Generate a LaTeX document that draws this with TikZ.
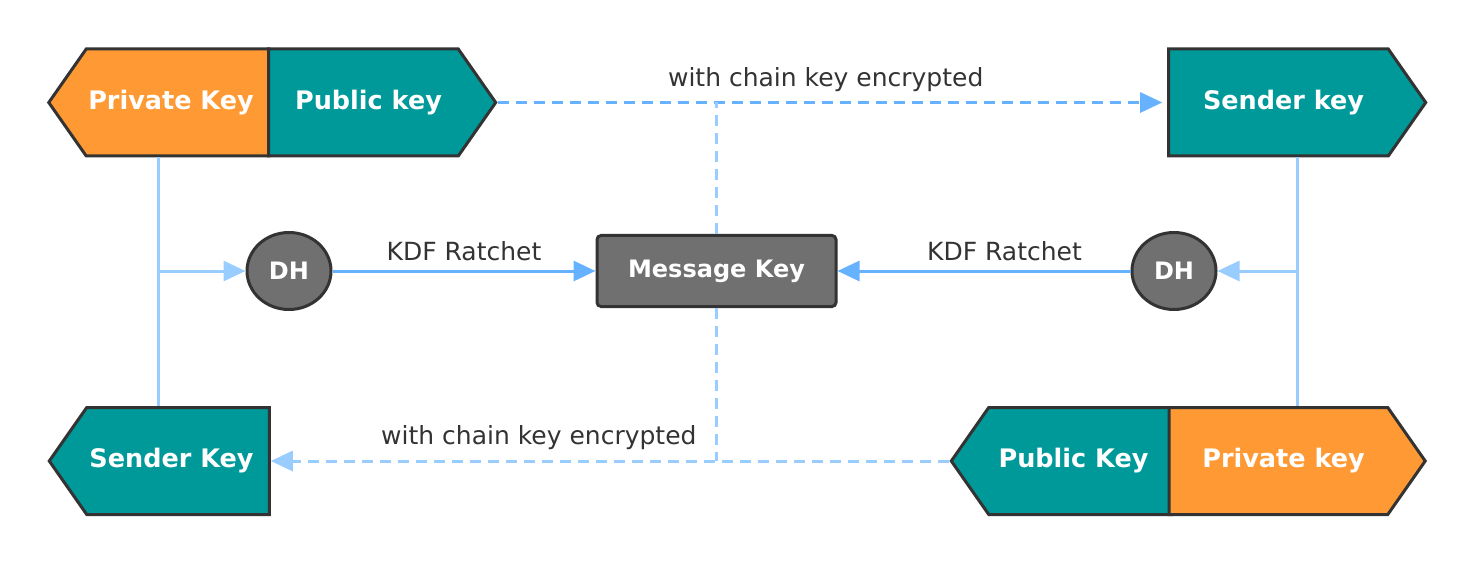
\documentclass[tikz,border=0pt]{standalone}
\usepackage{fontspec}
\setmainfont{DejaVu Sans}
\usepackage{tikz}
\usetikzlibrary{arrows.meta,shapes.symbols,shapes.geometric,calc}

\definecolor{keyorange}{HTML}{FF9933}
\definecolor{keyteal}{HTML}{009999}
\definecolor{keygray}{HTML}{707070}
\definecolor{edgedark}{HTML}{333333}
\definecolor{linkblue}{HTML}{66B2FF}
\definecolor{linklight}{HTML}{99CCFF}

\tikzset{
  keybox/.style={signal, signal pointer angle=110, draw=edgedark, line width=3pt,
    text=white, font=\bfseries\fontsize{25.5}{30}\selectfont,
    minimum height=107pt, inner sep=0pt},
  westkey/.style={keybox, signal to=west, execute at end node={\kern13pt}},
  eastkey/.style={keybox, signal to=east, execute at begin node={\kern10pt}},
  opnode/.style={draw=edgedark, fill=keygray, line width=3pt, text=white,
    font=\bfseries\fontsize{24}{28}\selectfont, inner sep=0pt},
  linklabel/.style={text=edgedark, font=\fontsize{25}{29}\selectfont},
  tip/.style={-{Triangle[length=22pt,width=20pt]}},
  ratchet/.style={tip, draw=linkblue, line width=3pt},
  feed/.style={tip, draw=linklight, line width=3pt},
}

\begin{document}
\begin{tikzpicture}[x=1pt,y=-1pt]
\useasboundingbox (0,0) rectangle (1478,564);
%key pairs%
\node[westkey, fill=keyorange, minimum width=220pt] (privA) at (177.5,102.5) {Private Key};
\node[eastkey, fill=keyteal, minimum width=227pt] (pubA) at (363.5,102.5) {Public key};
\node[eastkey, fill=keyteal, minimum width=257pt] (sendB) at (1278.5,102.5) {Sender key};
\node[westkey, fill=keyteal, minimum width=220pt] (sendA) at (178,461) {Sender Key};
\node[westkey, fill=keyteal, minimum width=220pt] (pubB) at (1080,461) {Public Key};
\node[eastkey, fill=keyorange, minimum width=256pt] (privB) at (1278.5,461) {Private key};
%DH and message key%
\node[opnode, ellipse, minimum width=84pt, minimum height=77pt] (dhA) at (289,271) {DH};
\node[opnode, ellipse, minimum width=84pt, minimum height=77pt] (dhB) at (1174,271) {DH};
\node[opnode, rounded corners=4pt, minimum width=239pt, minimum height=71pt] (msg) at (716.5,271) {Message Key};
%vertical lines%
\coordinate (axisA) at ($(privA.west)!0.5!(privA.east)$);
\coordinate (axisB) at ($(sendB.west)!0.5!(sendB.east)$);
\draw[linklight, line width=3pt] (axisA |- privA.south) -- (axisA |- sendA.north);
\draw[linklight, line width=3pt] (axisB |- sendB.south) -- (axisB |- privB.north);
\draw[feed] (axisA |- dhA.west) -- (dhA.west);
\draw[feed] (axisB |- dhB.east) -- (dhB.east);
%KDF ratchet%
\draw[ratchet] (dhA.east) -- node[linklabel, above=5pt] (kdfA) {KDF Ratchet} (msg.west);
\draw[ratchet] (dhB.west) -- node[linklabel, above=5pt, pos=0.43] (kdfB) {KDF Ratchet} (msg.east);
%encrypted links%
\draw[tip, linkblue, line width=3pt, dash pattern=on 11pt off 7pt, shorten >=5pt]
  (pubA.east) -- node[linklabel, above=6pt, pos=0.49] (encA) {with chain key encrypted} (sendB.west);
\draw[linklight, line width=3pt, dash pattern=on 11pt off 7pt] (msg.north) -- (msg.north |- pubA.east);
\draw[tip, linklight, line width=3pt, dash pattern=on 11pt off 7pt]
  (pubB.west) -- node[linklabel, above=6pt, pos=0.605] (encB) {with chain key encrypted} (sendA.east);
\draw[linklight, line width=3pt, dash pattern=on 11pt off 7pt] (msg.south) -- (msg.south |- pubB.west);
\end{tikzpicture}
\end{document}
